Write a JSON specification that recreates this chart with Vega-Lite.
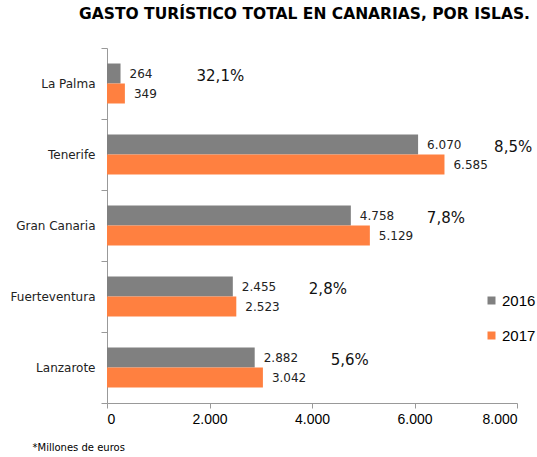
{
  "$schema": "https://vega.github.io/schema/vega-lite/v6.json",
  "width": 410,
  "height": 355,
  "autosize": {"type": "none"},
  "padding": {"left": 107, "top": 48, "right": 20, "bottom": 54},
  "config": {
    "locale": {"number": {"decimal": ",", "thousands": ".", "grouping": [3], "currency": ["", " €"]}},
    "view": {"stroke": null},
    "font": "DejaVu Sans"
  },
  "title": {
    "text": "GASTO TURÍSTICO TOTAL EN CANARIAS, POR ISLAS.",
    "anchor": "end",
    "frame": "group",
    "dx": 13,
    "offset": 20,
    "font": "DejaVu Sans",
    "fontSize": 15.5,
    "fontWeight": "bold",
    "color": "#000000"
  },
  "data": {
    "values": [
      {"isla": "La Palma", "2016": 264, "2017": 349, "variacion": "32,1%"},
      {"isla": "Tenerife", "2016": 6070, "2017": 6585, "variacion": "8,5%"},
      {"isla": "Gran Canaria", "2016": 4758, "2017": 5129, "variacion": "7,8%"},
      {"isla": "Fuerteventura", "2016": 2455, "2017": 2523, "variacion": "2,8%"},
      {"isla": "Lanzarote", "2016": 2882, "2017": 3042, "variacion": "5,6%"}
    ]
  },
  "encoding": {
    "y": {
      "field": "isla",
      "type": "nominal",
      "sort": ["La Palma", "Tenerife", "Gran Canaria", "Fuerteventura", "Lanzarote"],
      "scale": {"paddingInner": 0, "paddingOuter": 0},
      "axis": {
        "title": null,
        "tickBand": "extent",
        "tickSize": 6,
        "labelPadding": 6,
        "labelFont": "DejaVu Sans",
        "labelFontSize": 12,
        "labelColor": "#222222",
        "domainColor": "#999999",
        "tickColor": "#999999"
      }
    }
  },
  "layer": [
    {
      "transform": [{"fold": ["2016", "2017"], "as": ["serie", "gasto"]}],
      "encoding": {
        "x": {
          "field": "gasto",
          "type": "quantitative",
          "scale": {"domain": [0, 8000], "nice": false},
          "axis": {
            "values": [0, 2000, 4000, 6000, 8000],
            "format": ",d",
            "grid": false,
            "tickSize": 5,
            "labelPadding": 4,
            "labelFont": "Liberation Sans",
            "labelFontSize": 14,
            "labelColor": "#000000",
            "domainColor": "#999999",
            "tickColor": "#999999",
            "title": "*Millones de euros",
            "titleFont": "DejaVu Sans",
            "titleFontSize": 10,
            "titleFontWeight": "normal",
            "titleColor": "#000000",
            "titleX": -75,
            "titleY": 47,
            "titleAlign": "left",
            "titleBaseline": "alphabetic"
          }
        },
        "yOffset": {
          "field": "serie",
          "type": "nominal",
          "sort": ["2016", "2017"],
          "scale": {"paddingInner": 0, "paddingOuter": 0.775}
        }
      },
      "layer": [
        {
          "mark": {"type": "bar"},
          "encoding": {
            "color": {
              "field": "serie",
              "type": "nominal",
              "scale": {"domain": ["2016", "2017"], "range": ["#808080", "#FF8040"]},
              "legend": {
                "orient": "none",
                "legendX": 377,
                "legendY": 245,
                "padding": 0,
                "title": null,
                "symbolType": "square",
                "symbolSize": 64,
                "symbolStrokeWidth": 0,
                "labelFont": "Liberation Sans",
                "labelFontSize": 15,
                "labelColor": "#000000",
                "labelOffset": 3,
                "rowPadding": 19
              }
            }
          }
        },
        {
          "mark": {"type": "text", "align": "left", "baseline": "middle", "dx": 9, "font": "DejaVu Sans", "fontSize": 12, "color": "#222222"},
          "encoding": {
            "text": {"field": "gasto", "type": "quantitative", "format": ",d"}
          }
        }
      ]
    },
    {
      "mark": {"type": "text", "align": "left", "baseline": "middle", "dx": 76, "dy": -8, "font": "DejaVu Sans", "fontSize": 15, "color": "#111111"},
      "encoding": {
        "x": {"field": "2016", "type": "quantitative"},
        "text": {"field": "variacion", "type": "nominal"}
      }
    }
  ]
}
